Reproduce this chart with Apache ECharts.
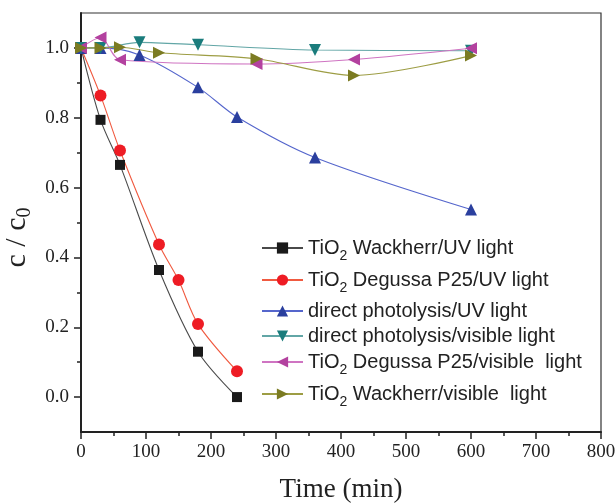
<!DOCTYPE html>
<html>
<head>
<meta charset="utf-8">
<script src="https://cdn.jsdelivr.net/npm/echarts@6/dist/echarts.min.js"></script>
<style>
  html, body { margin: 0; padding: 0; background: #fff; }
  #chart { width: 615px; height: 504px; }
</style>
</head>
<body>
<div id="chart"></div>
<script>
// Irradiation time (min) and normalised concentration c/c0 for each run
const tWackherrUV = [0, 30, 60, 120, 180, 240];
const cWackherrUV = [1.0, 0.794, 0.665, 0.364, 0.130, 0.0];

const tP25UV = [0, 30, 60, 120, 150, 180, 240];
const cP25UV = [1.0, 0.864, 0.706, 0.437, 0.335, 0.209, 0.074];

const tPhotolysisUV = [0, 30, 90, 180, 240, 360, 600];
const cPhotolysisUV = [1.0, 1.0, 0.980, 0.887, 0.802, 0.686, 0.537];

const tPhotolysisVis = [0, 30, 90, 180, 360, 600];
const cPhotolysisVis = [1.0, 1.0, 1.016, 1.009, 0.994, 0.992];

const tP25Vis = [0, 30, 60, 270, 420, 600];
const cP25Vis = [1.0, 1.030, 0.966, 0.954, 0.967, 0.999];

const tWackherrVis = [0, 30, 60, 120, 270, 420, 600];
const cWackherrVis = [1.0, 1.0, 1.002, 0.986, 0.969, 0.921, 0.978];

const xTicks = [0, 100, 200, 300, 400, 500, 600, 700, 800];
const yLabels = [0.0, 0.2, 0.4, 0.6, 0.8, 1.0];
const yMinor = [0.1, 0.3, 0.5, 0.7, 0.9];

const pairs = (t, c) => t.map((x, i) => [x, c[i]]);

const SERIF = '"Liberation Serif", "Times New Roman", serif';
const SANS = '"Liberation Sans", Arial, sans-serif';

// series definitions: name shown in legend, marker, colours
const runs = [
  { name: 'wuv', label: ['TiO', '2', ' Wackherr/UV light'], data: pairs(tWackherrUV, cWackherrUV),
    symbol: 'rect', size: 10, rot: 0, mark: '#1a1a1a', line: '#4a4a4a' },
  { name: 'puv', label: ['TiO', '2', ' Degussa P25/UV light'], data: pairs(tP25UV, cP25UV),
    symbol: 'circle', size: 12, rot: 0, mark: '#ee1c24', line: '#f05a40' },
  { name: 'duv', label: ['direct photolysis/UV light'], data: pairs(tPhotolysisUV, cPhotolysisUV),
    symbol: 'triangle', size: 12, rot: 0, mark: '#2a3f9e', line: '#5566cc' },
  { name: 'dvis', label: ['direct photolysis/visible light'], data: pairs(tPhotolysisVis, cPhotolysisVis),
    symbol: 'triangle', size: 12, rot: 180, mark: '#1a7c7c', line: '#62a6a6' },
  { name: 'pvis', label: ['TiO', '2', ' Degussa P25/visible  light'], data: pairs(tP25Vis, cP25Vis),
    symbol: 'triangle', size: 12, rot: 90, mark: '#b3419f', line: '#cf74c2' },
  { name: 'wvis', label: ['TiO', '2', ' Wackherr/visible  light'], data: pairs(tWackherrVis, cWackherrVis),
    symbol: 'triangle', size: 12, rot: -90, mark: '#7b7b22', line: '#9d9d44' }
];

// legend rows: vertical centre of each entry
const legendRowCentres = [248, 280, 312, 337, 362, 394];

const legendRich = {
  a: { fontFamily: SANS, fontSize: 20, color: '#222', lineHeight: 22, verticalAlign: 'middle' },
  s: { fontFamily: SANS, fontSize: 14, color: '#222', lineHeight: 14, padding: [17, 0, 0, 0], verticalAlign: 'middle' }
};

const legends = runs.map((r, i) => {
  const hasSub = r.label.length > 1;
  const h = hasSub ? 31 : 22;
  return {
    data: [r.name],
    orient: 'vertical',
    left: 261,
    top: legendRowCentres[i] - h / 2,
    itemWidth: 41,
    itemHeight: 14,
    itemGap: 0,
    padding: 0,
    selectedMode: false,
    formatter: () => hasSub
      ? '{a|' + r.label[0] + '}{s|' + r.label[1] + '}{a|' + r.label[2] + '}'
      : '{a|' + r.label[0] + '}',
    textStyle: { rich: legendRich }
  };
});

const chart = echarts.init(document.getElementById('chart'), null, { renderer: 'canvas' });

chart.setOption({
  animation: false,
  backgroundColor: '#fff',
  grid: {
    left: 81, right: 14, top: 13, bottom: 72,
    outerBoundsMode: 'none',
    containLabel: false,
    show: true, borderColor: '#333', borderWidth: 1.2, backgroundColor: 'transparent'
  },
  legend: legends,
  xAxis: {
    type: 'value',
    min: 0, max: 800, interval: 100,
    name: 'Time (min)',
    nameLocation: 'middle',
    nameGap: 44,
    nameTextStyle: { fontFamily: SERIF, fontSize: 27, color: '#222' },
    axisLine: { show: true, onZero: false, lineStyle: { color: '#222', width: 2 } },
    axisTick: { show: true, inside: false, length: 7, lineStyle: { color: '#222', width: 1.5 } },
    minorTick: { show: true, splitNumber: 2, length: 4, lineStyle: { color: '#222', width: 1.5 } },
    axisLabel: { fontFamily: SERIF, fontSize: 19, color: '#222', margin: 11,
      customValues: xTicks },
    splitLine: { show: false }
  },
  yAxis: [
    {
      type: 'value',
      min: -0.1, max: 1.1,
      name: '{c|c / c}{s|0}',
      nameLocation: 'middle',
      nameRotate: 90,
      nameGap: 46,
      nameTextStyle: {
        padding: [0, 30, 0, 0],
        rich: {
          c: { fontFamily: SERIF, fontSize: 30, color: '#222', lineHeight: 30, verticalAlign: 'middle' },
          s: { fontFamily: SERIF, fontSize: 20, color: '#222', lineHeight: 20, padding: [14, 0, 0, 0], verticalAlign: 'middle' }
        }
      },
      axisLine: { show: true, onZero: false, lineStyle: { color: '#222', width: 2 } },
      axisTick: { show: true, inside: false, length: 7, customValues: yLabels,
        lineStyle: { color: '#222', width: 1.5 } },
      axisLabel: { fontFamily: SERIF, fontSize: 19, color: '#222', margin: 12,
        customValues: yLabels, formatter: v => v.toFixed(1) },
      splitLine: { show: false }
    },
    {
      type: 'value',
      position: 'left',
      min: -0.1, max: 1.1,
      axisLine: { show: false },
      axisTick: { show: true, inside: false, length: 4, customValues: yMinor,
        lineStyle: { color: '#222', width: 1.5 } },
      axisLabel: { show: false },
      splitLine: { show: false }
    }
  ],
  series: runs.map(r => ({
    name: r.name,
    type: 'line',
    data: r.data,
    smooth: 0.3,
    symbol: r.symbol,
    symbolSize: r.size,
    symbolRotate: r.rot,
    showAllSymbol: true,
    itemStyle: { color: r.mark, borderWidth: 0 },
    lineStyle: { color: r.line, width: 1.1 },
    emphasis: { disabled: true },
    z: 2
  }))
});
</script>
</body>
</html>
